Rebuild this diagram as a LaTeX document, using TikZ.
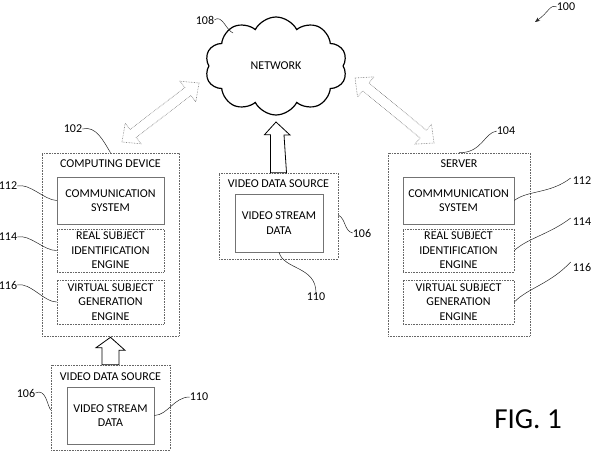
\documentclass[tikz,border=0pt]{standalone}
\usepackage{fontspec}
\setmainfont{Carlito}
\usetikzlibrary{shapes.symbols,calc,arrows.meta}
\newcommand\dblarr[2]{%
  \path ($(#1)!14pt!(#2)$) coordinate (da1) ($(#2)!14pt!(#1)$) coordinate (da2);
  \draw[dbl] (#1) -- ($(da1)!13pt!90:(#2)$) -- ($(da1)!5pt!90:(#2)$) -- ($(da2)!5pt!-90:(#1)$) -- ($(da2)!13pt!-90:(#1)$) -- (#2) -- ($(da2)!13pt!90:(#1)$) -- ($(da2)!5pt!90:(#1)$) -- ($(da1)!5pt!-90:(#2)$) -- ($(da1)!13pt!-90:(#2)$) -- cycle;}
\begin{document}
\begin{tikzpicture}[x=1pt,y=-1pt,
  box/.style={draw=black!60, densely dotted, line width=0.6pt, inner sep=0pt},
  sbox/.style={draw=black!55, line width=0.5pt, inner sep=0pt},
  txt/.style={font=\fontsize{12}{14.5}\selectfont, align=center, inner sep=0pt},
  num/.style={font=\fontsize{12}{14}\selectfont, inner sep=0pt},
  lead/.style={draw=black!85, line width=0.5pt},
  hollow/.style={draw=black, line width=0.8pt, fill=white},
  dbl/.style={draw=black!55, densely dotted, line width=0.6pt}]
\path[use as bounding box] (0,0) rectangle (591,463);

% network cloud
\node[cloud, draw, line width=1.2pt, cloud puffs=10, cloud puff arc=125, aspect=1.45,
  minimum width=142pt, minimum height=98pt, txt] (net) at (276,66) {NETWORK};
\node[num] (l108) at (205,20) {108};
\coordinate (c108) at (233,33);
\draw[lead] (l108.east) .. controls (222,14) and (226,30) .. (c108);

% 100
\node[num] (l100) at (566,7) {100};
\coordinate (c100) at (535,22);
\draw[lead, -{Stealth[length=5pt,width=4pt]}] (l100.west) .. controls (550,4) and (549,12) .. (c100);

% computing device
\node[box, minimum width=137pt, minimum height=183pt] (cd) at (110.5,244.5) {};
\node[txt] (cdt) at (110.5,164) {COMPUTING DEVICE};
\node[sbox, minimum width=107pt, minimum height=47pt, txt] (cdcom) at (110.5,200.5) {COMMUNICATION\\SYSTEM};
\node[box, minimum width=107pt, minimum height=43pt, txt] (cdreal) at (110.5,250.5) {REAL SUBJECT\\IDENTIFICATION\\ENGINE};
\node[box, minimum width=107pt, minimum height=44pt, txt] (cdvirt) at (110.5,302) {VIRTUAL SUBJECT\\GENERATION\\ENGINE};
\node[num] (l102) at (73,129) {102};
\node[num] (l112a) at (8,186) {112};
\node[num] (l114a) at (8,237) {114};
\node[num] (l116a) at (8,285) {116};
\draw[lead] (l102.east) .. controls (96,125) and (104,142) .. (cd.north);
\draw[lead] (l112a.east) .. controls (30,183) and (44,200) .. (cdcom.west);
\draw[lead] (l114a.east) .. controls (30,234) and (44,251) .. (cdreal.west);
\draw[lead] (l116a.east) .. controls (30,282) and (44,302) .. (cdvirt.west);

% server
\node[box, minimum width=142pt, minimum height=183pt] (srv) at (459,244.5) {};
\node[txt] (srvt) at (459,164) {SERVER};
\node[sbox, minimum width=111pt, minimum height=47pt, txt] (svcom) at (458.5,200.5) {COMMMUNICATION\\SYSTEM};
\node[box, minimum width=111pt, minimum height=43pt, txt] (svreal) at (458.5,250.5) {REAL SUBJECT\\IDENTIFICATION\\ENGINE};
\node[box, minimum width=111pt, minimum height=44pt, txt] (svvirt) at (458.5,302) {VIRTUAL SUBJECT\\GENERATION\\ENGINE};
\node[num] (l104) at (506,131) {104};
\node[num] (l112b) at (582,181) {112};
\node[num] (l114b) at (582,222) {114};
\node[num] (l116b) at (582,267) {116};
\draw[lead] (srv.north) .. controls (482,153) and (484,133) .. (l104.west);
\draw[lead] (svcom.east) .. controls (528,190) and (550,194) .. ([xshift=-2pt,yshift=3pt]l112b.west);
\draw[lead] (svreal.east) .. controls (528,238) and (550,234) .. ([xshift=-2pt,yshift=4pt]l114b.west);
\draw[lead] (svvirt.east) .. controls (528,288) and (550,284) .. ([xshift=-2pt,yshift=5pt]l116b.west);

% central video data source
\node[box, minimum width=119pt, minimum height=86pt] (vds) at (278.5,216) {};
\node[txt] (vdst) at (278.5,184) {VIDEO DATA SOURCE};
\node[sbox, minimum width=88pt, minimum height=58pt, txt] (vsd) at (279,223) {VIDEO STREAM\\DATA};
\node[num] (l106a) at (362,233) {106};
\node[num] (l110a) at (316,297) {110};
\draw[lead] ([yshift=1pt]vds.east) .. controls (346,219) and (344,231) .. (l106a.west);
\draw[lead] (vsd.south) .. controls (284,270) and (316,266) .. (l110a.north);
\draw[hollow] ([xshift=-8pt]vds.north) -- ++(0,-38) -- ++(-6,0) -- (net.south |- 0,122) coordinate (tipa) -- ([xshift=14pt]tipa |- 0,135) -- ++(-6,0) -- ([xshift=8pt]vds.north) -- cycle;

% bottom video data source
\node[box, minimum width=119pt, minimum height=85pt] (vdb) at (110.5,407.5) {};
\node[txt] (vdbt) at (110.5,377) {VIDEO DATA SOURCE};
\node[sbox, minimum width=87pt, minimum height=57pt, txt] (vsb) at (110.5,415.5) {VIDEO STREAM\\DATA};
\node[num] (l106b) at (26,393) {106};
\node[num] (l110b) at (199,397) {110};
\draw[lead] (l106b.east) .. controls (46,388) and (47,405) .. (vdb.west |- 0,410);
\draw[lead] (vsb.east) .. controls (168,415) and (174,397) .. (l110b.west);
\draw[hollow] ([xshift=-8.5pt]vdb.north) -- ++(0,-17) -- ++(-6,0) -- ([yshift=-1pt]cd.south) -- ++(14.5,13) -- ++(-6,0) -- ([xshift=8.5pt]vdb.north) -- cycle;

% double arrows
\coordinate (la) at (122,142);
\coordinate (lb) at (199,83);
\coordinate (ra) at (355,78);
\coordinate (rb) at (434,143);
\dblarr{la}{lb}
\dblarr{ra}{rb}

% figure label
\node[font=\fontsize{29}{34}\selectfont, inner sep=0pt] (fig) at (528,419) {FIG. 1};
\end{tikzpicture}
\end{document}
